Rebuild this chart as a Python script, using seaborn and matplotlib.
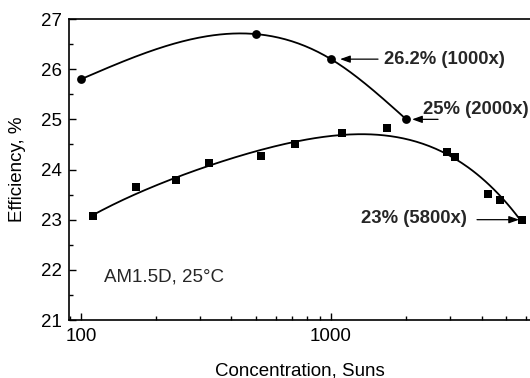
# Efficiency versus concentration chart (log x axis)

import numpy as np
import pandas as pd
import matplotlib
matplotlib.use("Agg")
import matplotlib.pyplot as plt
import seaborn as sns

# Circle series (cell 1)
suns_a = [100, 500, 1000, 2000]
eff_a = [25.8, 26.7, 26.2, 25.0]

# Square series (cell 2)
suns_b = [112, 166, 240, 324, 525, 718, 1110, 1675, 2900, 3120, 4250, 4730, 5800]
eff_b = [23.08, 23.65, 23.79, 24.12, 24.27, 24.5, 24.72, 24.82, 24.34, 24.25, 23.51, 23.4, 22.99]

y_ticks = [21, 22, 23, 24, 25, 26, 27]
x_ticks = [100, 1000]

sns.set_theme(style="ticks")
plt.rcParams["font.family"] = ["Liberation Sans", "DejaVu Sans"]

df_a = pd.DataFrame({"suns": suns_a, "eff": eff_a})
df_b = pd.DataFrame({"suns": suns_b, "eff": eff_b})


def spline_curve(df, n=200):
    # natural cubic spline through the points, in log10(x)
    x = np.log10(df["suns"].to_numpy(float))
    y = df["eff"].to_numpy(float)
    k = len(x)
    h = np.diff(x)
    A = np.zeros((k, k))
    r = np.zeros(k)
    A[0, 0] = A[-1, -1] = 1
    for i in range(1, k - 1):
        A[i, i - 1] = h[i - 1]
        A[i, i] = 2 * (h[i - 1] + h[i])
        A[i, i + 1] = h[i]
        r[i] = 6 * ((y[i + 1] - y[i]) / h[i] - (y[i] - y[i - 1]) / h[i - 1])
    m = np.linalg.solve(A, r)
    xs = np.linspace(x[0], x[-1], n)
    j = np.clip(np.searchsorted(x, xs) - 1, 0, k - 2)
    t0 = x[j + 1] - xs
    t1 = xs - x[j]
    hj = h[j]
    ys = (m[j] * t0 ** 3 / (6 * hj) + m[j + 1] * t1 ** 3 / (6 * hj)
          + (y[j] / hj - m[j] * hj / 6) * t0 + (y[j + 1] / hj - m[j + 1] * hj / 6) * t1)
    return pd.DataFrame({"suns": 10 ** xs, "eff": ys})


def fit_curve(df, order, n=200):
    # least squares polynomial in log10(x), ends weighted
    lx = np.log10(df["suns"].to_numpy(float))
    w = np.ones(len(lx))
    w[0] = w[-1] = 2
    coef = np.polyfit(lx, df["eff"], order, w=w)
    xs = np.linspace(lx.min(), lx.max(), n)
    return pd.DataFrame({"suns": 10 ** xs, "eff": np.polyval(coef, xs)})


fig = plt.figure(figsize=(5.3, 3.78), dpi=100)
ax = fig.add_axes([0.130, 0.1534, 0.870, 0.7963])

sns.lineplot(data=spline_curve(df_a), x="suns", y="eff", ax=ax,
             color="black", lw=1.3, sort=False)
sns.lineplot(data=fit_curve(df_b, 4), x="suns", y="eff", ax=ax,
             color="black", lw=1.3, sort=False)
sns.scatterplot(data=df_a, x="suns", y="eff", ax=ax, marker="o",
                s=40, color="black", edgecolor="black", linewidth=0, zorder=5)
sns.scatterplot(data=df_b, x="suns", y="eff", ax=ax, marker="s",
                s=38, color="black", edgecolor="black", linewidth=0, zorder=5)

ax.set_xscale("log")
ax.set_xlim(89.5, 6250)
ax.set_ylim(21, 27)
ax.set_yticks(y_ticks)
ax.set_yticks(np.arange(21, 27, 0.5), minor=True)
ax.set_xticks(x_ticks)
ax.set_xticklabels([str(t) for t in x_ticks])
ax.tick_params(which="both", direction="in", top=False, right=False,
               labelsize=13.5, color="black", labelcolor="black", width=1)
ax.tick_params(which="major", length=5)
ax.tick_params(axis="x", which="major", pad=6)
ax.tick_params(axis="y", which="major", pad=5)
ax.tick_params(which="minor", length=3)
ax.spines["right"].set_visible(False)
for sp in ["left", "bottom", "top"]:
    ax.spines[sp].set_color("black")
    ax.spines[sp].set_linewidth(1.2)

ax.set_xlabel("Concentration, Suns", fontsize=13.5, labelpad=12, color="black")
ax.set_ylabel("Efficiency, %", fontsize=13.5, labelpad=11, color="black")

arrow = dict(arrowstyle="-|>,head_length=0.5,head_width=0.18", color="black",
             lw=0.9, shrinkA=0, shrinkB=0)
ax.text(1630, 26.2, "26.2% (1000x)", fontsize=13.3, fontweight="bold",
        ha="left", va="center")
ax.annotate("", xy=(1087, 26.2), xytext=(1542, 26.2), arrowprops=arrow)
ax.text(2334, 25.19, "25% (2000x)", fontsize=13.3, fontweight="bold",
        ha="left", va="center")
ax.annotate("", xy=(2110, 25.0), xytext=(2680, 25.0), arrowprops=arrow)
ax.text(3500, 23.02, "23% (5800x)", fontsize=13.3, fontweight="bold",
        ha="right", va="center")
ax.annotate("", xy=(5650, 23.0), xytext=(3837, 23.0), arrowprops=arrow)

ax.text(0.076, 0.143, "AM1.5D, 25°C", transform=ax.transAxes, fontsize=13.5,
        ha="left", va="center")

fig.savefig("out.png", dpi=100)
